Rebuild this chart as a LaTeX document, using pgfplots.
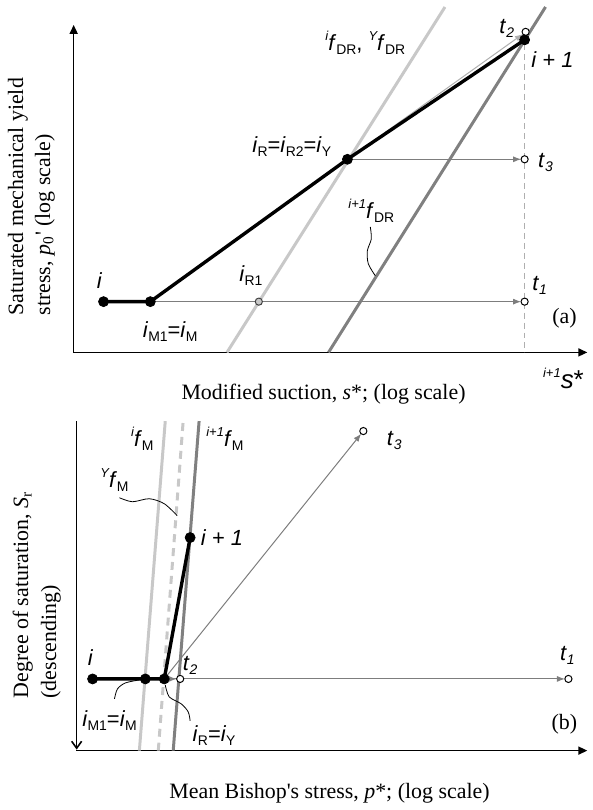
\documentclass[border=0pt]{standalone}
\usepackage{fontspec}
\setmainfont{Liberation Serif}
\setsansfont{Liberation Sans}
\usepackage{pgfplots}
\pgfplotsset{compat=1.18}
\usetikzlibrary{arrows.meta}
\definecolor{lg}{RGB}{200,200,200}
\definecolor{dg}{RGB}{128,128,128}
\definecolor{ag}{RGB}{125,125,125}
\definecolor{dsh}{RGB}{175,175,175}
\newcommand{\lbl}{\sffamily\fontsize{11}{13}\selectfont}
\newcommand{\ttl}{\rmfamily\fontsize{11}{13}\selectfont}
\newcommand{\sbs}[1]{\raisebox{-0.35ex}{\fontsize{7}{8}\selectfont\upshape #1}}
\newcommand{\sbi}[1]{\raisebox{-0.35ex}{\fontsize{7}{8}\selectfont\itshape #1}}
\newcommand{\sps}[1]{\raisebox{0.85ex}{\fontsize{6.5}{7}\selectfont\itshape #1}}
\begin{document}
\begin{tikzpicture}
\begin{axis}[hide axis, scale only axis, width=297.5pt, height=405pt,
  xmin=0, xmax=595, ymin=0, ymax=810, y dir=reverse, clip=false]
\path (axis cs:0,0) rectangle (axis cs:595,810);

% ================= (a) top panel =================
\addplot[black, line width=0.8pt, -{Triangle[length=4.5pt,width=4pt]}] coordinates {(74,354.4)(74,25)};
\addplot[black, line width=0.8pt, -{Triangle[length=4.5pt,width=4pt]}] coordinates {(73.6,354)(590,354)};
\addplot[lg, line width=1.5pt] coordinates {(228,354)(447,7)};
\addplot[dg, line width=1.5pt] coordinates {(330,354)(548,7)};
\addplot[dsh, line width=0.6pt, dash pattern=on 3pt off 2pt] coordinates {(527,44)(527,354)};
\addplot[ag, line width=0.5pt, -{Latex[length=4pt,width=3pt]}] coordinates {(151,303)(523.5,303)};
\addplot[ag, line width=0.5pt, -{Latex[length=4pt,width=3pt]}] coordinates {(349,160)(523.5,160)};
\addplot[dsh, line width=0.5pt, -{Latex[length=4pt,width=3pt]}] coordinates {(349,160)(525.2,34.2)};
\addplot[black, line width=1.7pt] coordinates {(104,303)(151,303)(349,160)(527,40)};
\addplot[black, line width=0.4pt, smooth] coordinates {(372,228)(373,240)(369,252)(370,265)(377,277)};
\addplot[only marks, mark=*, mark size=1.8pt, mark options={fill=white, draw=black, line width=0.5pt}] coordinates {(527,303)(527,160)(528,32)};
\addplot[only marks, mark=*, mark size=1.8pt, mark options={fill=lg, draw=black!75, line width=0.5pt}] coordinates {(260,303)};
\addplot[only marks, mark=*, mark size=2.5pt, black] coordinates {(104,303)(151,303)(349,160)(527,40)};

\node[font=\lbl] at (axis cs:100,282) {\textit{i}};
\node[font=\lbl] at (axis cs:171,333) {\textit{i}\sbs{M1}=\textit{i}\sbs{M}};
\node[font=\lbl] at (axis cs:252,277) {\textit{i}\sbs{R1}};
\node[font=\lbl] at (axis cs:293,147) {\textit{i}\sbs{R}=\textit{i}\sbs{R2}=\textit{i}\sbs{Y}};
\node[font=\lbl] at (axis cs:367,43) {\sps{i}\textit{f}\sbs{DR}, \sps{Y}\textit{f}\sbs{DR}};
\node[font=\lbl] at (axis cs:373,212) {\sps{i+1}\textit{f}\sbs{DR}};
\node[font=\lbl] at (axis cs:509,29) {\textit{t}\sbi{2}};
\node[font=\lbl] at (axis cs:555,60) {\textit{i + 1}};
\node[font=\lbl] at (axis cs:548,163) {\textit{t}\sbi{3}};
\node[font=\lbl] at (axis cs:542,287) {\textit{t}\sbi{1}};
\node[font=\ttl] at (axis cs:567,320) {(a)};
\node[font=\sffamily\fontsize{13}{15}\selectfont] at (axis cs:566,380) {\sps{i+1}\textit{s}*};
\node[font=\ttl] at (axis cs:325,396) {Modified suction, \textit{s}*; (log scale)};
\node[font=\ttl, rotate=90, anchor=west, inner sep=0pt] at (axis cs:18,317) {Saturated mechanical yield};
\node[font=\ttl, rotate=90, anchor=west, inner sep=0pt] at (axis cs:45,317) {stress, \textit{p}\textsubscript{0}\textquotesingle\ (log scale)};

% ================= (b) bottom panel =================
\addplot[black, line width=0.8pt, -{Straight Barb[length=3.5pt,width=5pt]}] coordinates {(77,423)(77,753)};
\addplot[black, line width=0.8pt, -{Triangle[length=4.5pt,width=4pt]}] coordinates {(76.6,754)(590,754)};
\addplot[lg, line width=1.5pt] coordinates {(140,754)(166,423)};
\addplot[lg, line width=1.5pt, dash pattern=on 4pt off 3pt] coordinates {(159,754)(184,423)};
\addplot[dg, line width=1.5pt] coordinates {(174,754)(200,423)};
\addplot[ag, line width=0.5pt, -{Latex[length=4pt,width=3pt]}] coordinates {(165,682)(567.5,682)};
\addplot[ag, line width=0.5pt, -{Latex[length=4pt,width=3pt]}] coordinates {(165,682)(177.5,682)};
\addplot[ag, line width=0.5pt, -{Latex[length=4pt,width=3pt]}] coordinates {(165,682)(362.8,435.7)};
\addplot[black, line width=1.7pt] coordinates {(93,682)(146,682)(165,682)(191,540)};
\addplot[black, line width=0.4pt, smooth] coordinates {(120,500)(133,504)(150,501)(165,506)(178,518)};
\addplot[black, line width=0.4pt, smooth] coordinates {(115,702)(118,692)(126,686)(140,683)};
\addplot[black, line width=0.4pt, smooth] coordinates {(166,688)(170,700)(182,707)(189,715)(191,724)};
\addplot[only marks, mark=*, mark size=1.8pt, mark options={fill=white, draw=black, line width=0.5pt}] coordinates {(181,682)(571,682)(365,433)};
\addplot[only marks, mark=*, mark size=2.5pt, black] coordinates {(93,682)(146,682)(165,682)(191,540)};

\node[font=\lbl] at (axis cs:91,661) {\textit{i}};
\node[font=\lbl] at (axis cs:110,724) {\textit{i}\sbs{M1}=\textit{i}\sbs{M}};
\node[font=\lbl] at (axis cs:215,739) {\textit{i}\sbs{R}=\textit{i}\sbs{Y}};
\node[font=\lbl] at (axis cs:191,668) {\textit{t}\sbi{2}};
\node[font=\lbl] at (axis cs:143,441) {\sps{i}\textit{f}\sbs{M}};
\node[font=\lbl] at (axis cs:226,441) {\sps{i+1}\textit{f}\sbs{M}};
\node[font=\lbl] at (axis cs:115,482) {\sps{Y}\textit{f}\sbs{M}};
\node[font=\lbl] at (axis cs:223,540) {\textit{i + 1}};
\node[font=\lbl] at (axis cs:396,442) {\textit{t}\sbi{3}};
\node[font=\lbl] at (axis cs:570,658) {\textit{t}\sbi{1}};
\node[font=\ttl] at (axis cs:567,728) {(b)};
\node[font=\ttl] at (axis cs:331,797) {Mean Bishop\textquotesingle s stress, \textit{p}*; (log scale)};
\node[font=\ttl, rotate=90, anchor=west, inner sep=0pt] at (axis cs:23,702) {Degree of saturation, \textit{S}\textsubscript{r}};
\node[font=\ttl, rotate=90, anchor=west, inner sep=0pt] at (axis cs:51,702) {(descending)};
\end{axis}
\end{tikzpicture}
\end{document}
